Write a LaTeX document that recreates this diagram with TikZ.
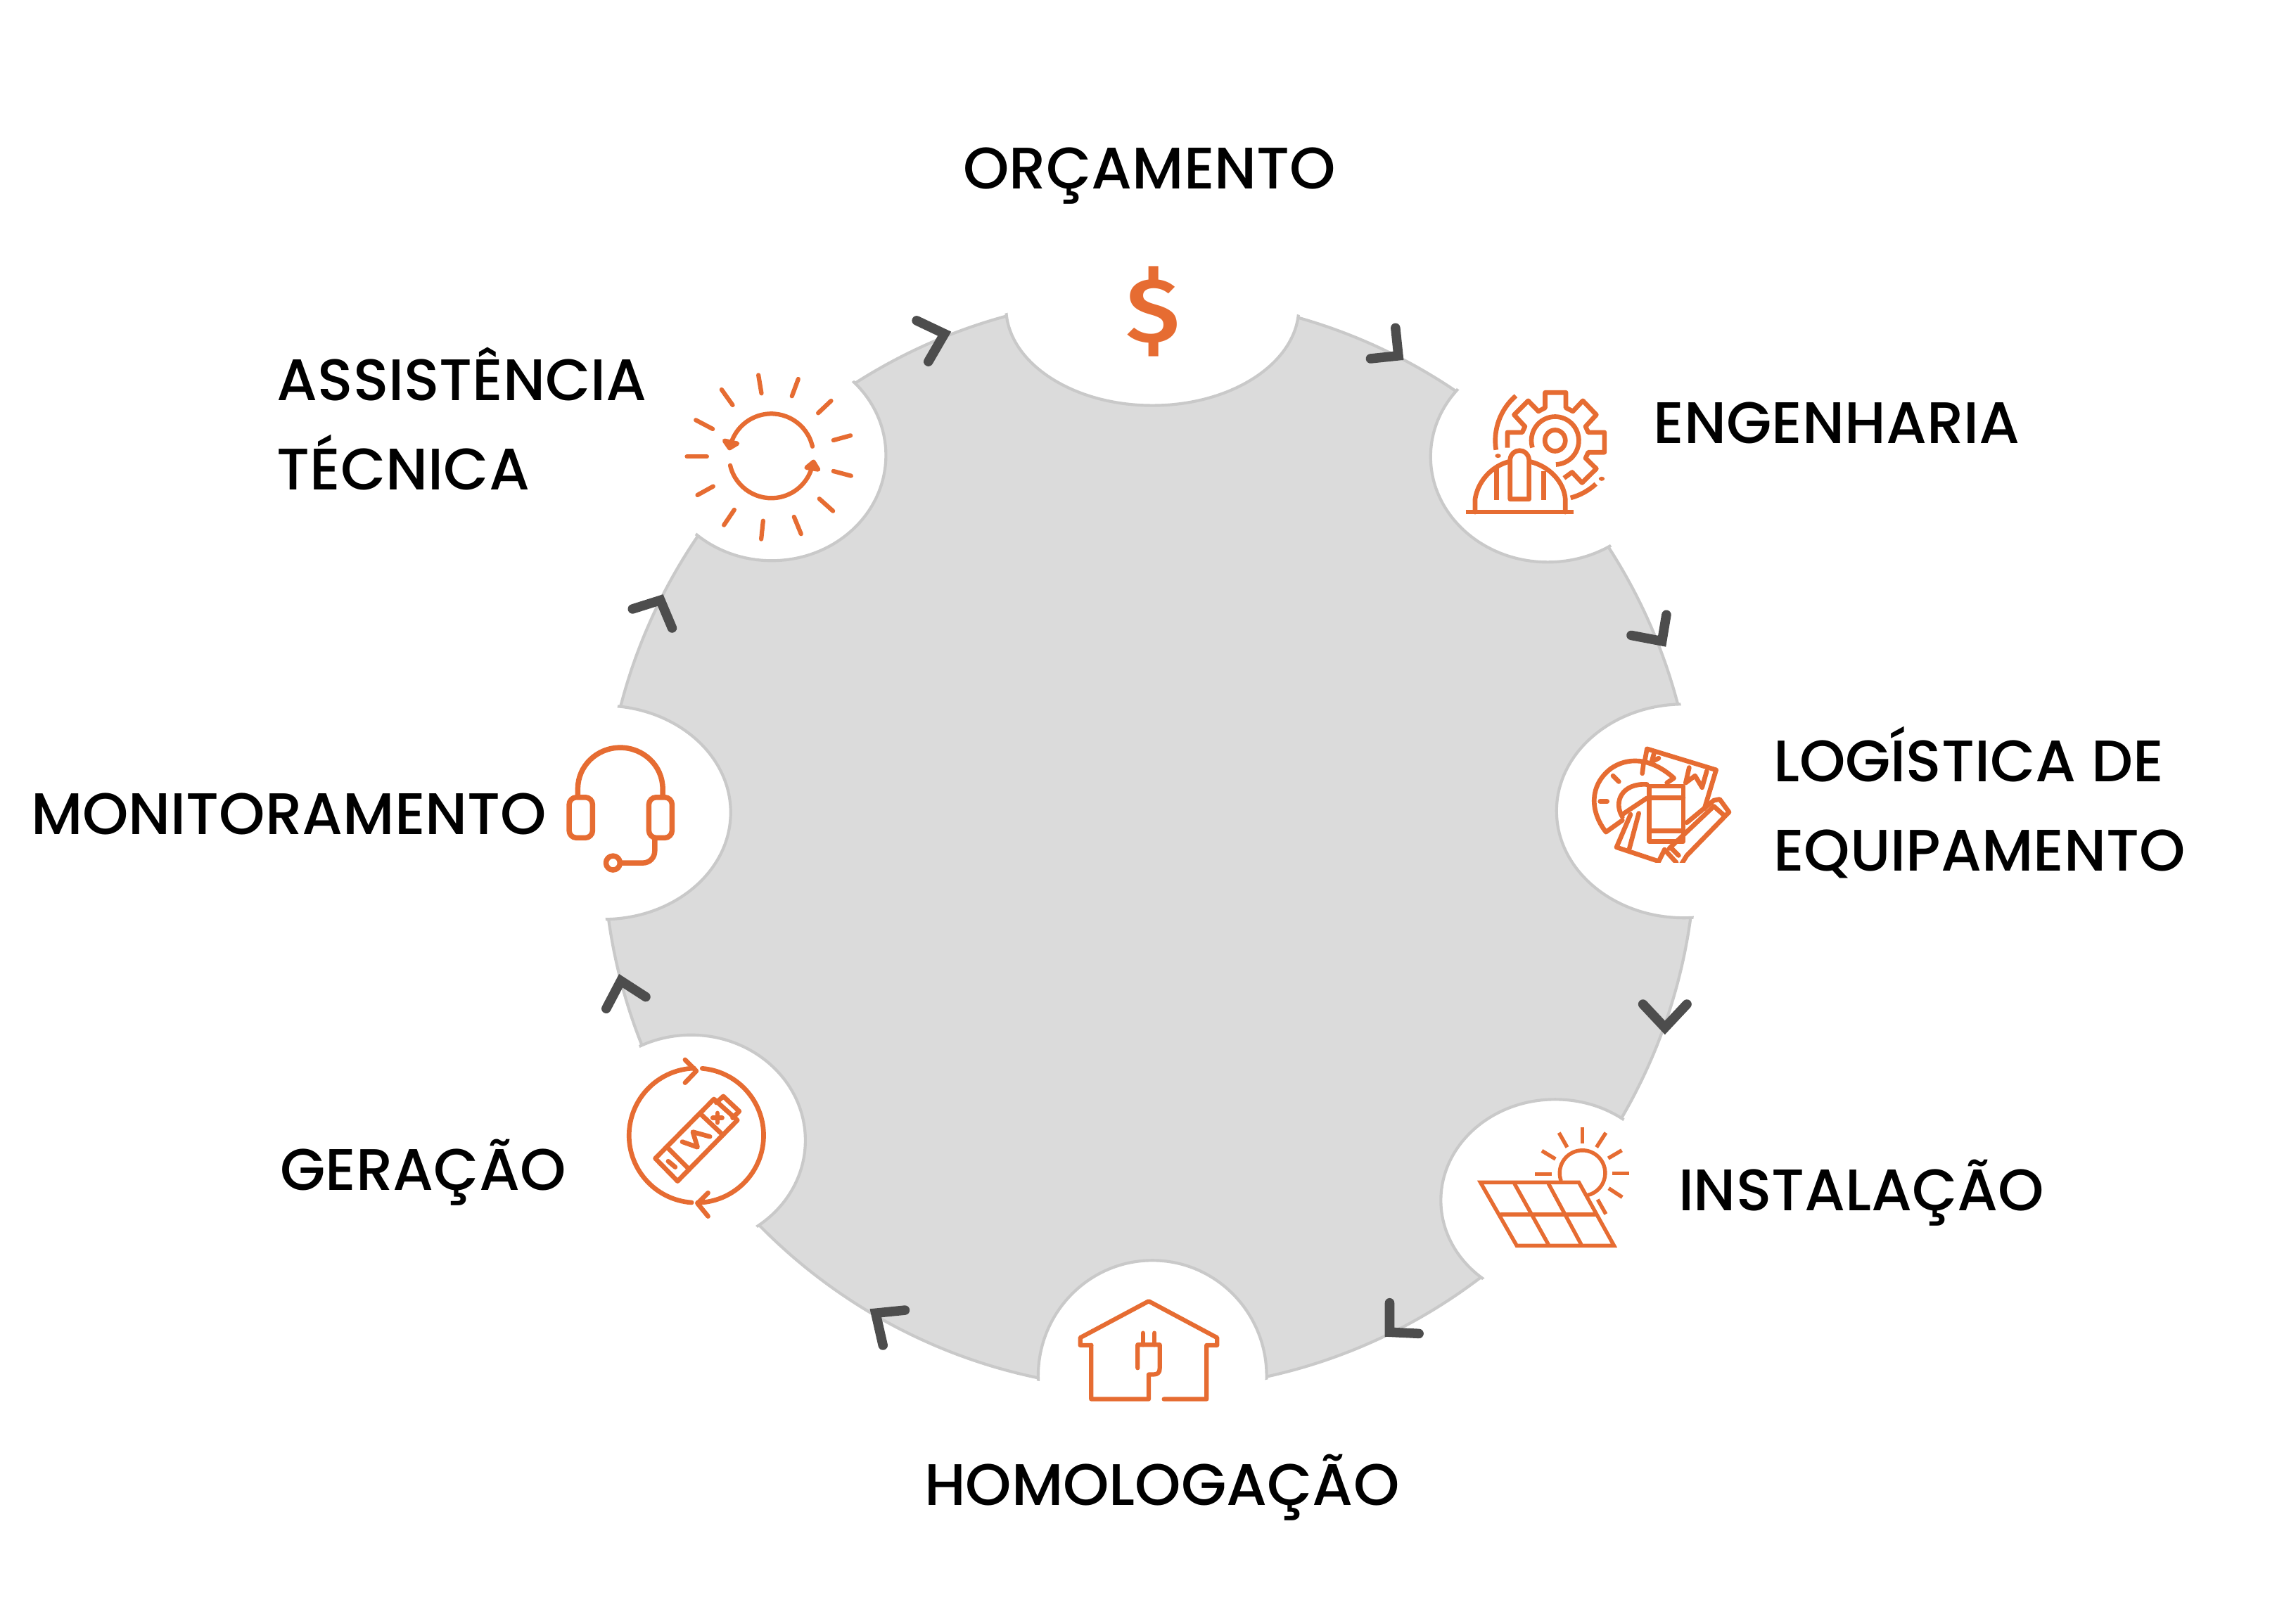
\documentclass[tikz,border=0pt]{standalone}
\usepackage{fontspec}
\setmainfont{Poppins Medium}
\newfontfamily\dollarfont[FakeStretch=1.1]{Fira Sans Medium}
\usepackage{tikz}
\usetikzlibrary{shapes.geometric}
\definecolor{ringGrey}{HTML}{DBDBDB}
\definecolor{ringLine}{HTML}{C9C9C9}
\definecolor{iconOrange}{HTML}{E66C32}
\definecolor{chevGrey}{HTML}{4D4D4D}
\tikzstyle{notchNode} = [ellipse, inner sep=0pt, fill=white, draw=ringLine, line width=2pt]
\tikzstyle{labelNode} = [inner sep=0pt, align=left, text=black, font=\fontsize{40}{61}\selectfont]
\tikzstyle{chevron} = [line width=6.5pt, line cap=round, draw=chevGrey]
\tikzstyle{icon} = [line width=3.2pt, draw=iconOrange, line cap=round, line join=round]
\begin{document}
\begin{tikzpicture}[x=1pt, y=-1pt]
    \useasboundingbox (0,0) rectangle (1568,1099);
    % Ring
    \filldraw [fill=ringGrey, draw=ringLine, line width=2pt] (785,576) circle [radius=373];
    \begin{scope}
        \clip (785,576) circle [radius=375];
        \node (orcNotch) [notchNode, minimum width=200pt, minimum height=134pt] at (787,210) {};
        \node (engNotch) [notchNode, minimum width=160pt, minimum height=144pt] at (1057,312) {};
        \node (logNotch) [notchNode, minimum width=174pt, minimum height=146pt] at (1150,554) {};
        \node (insNotch) [notchNode, minimum width=156pt, minimum height=138pt] at (1062,820) {};
        \node (homNotch) [notchNode, minimum width=156pt, minimum height=158pt] at (787,940) {};
        \node (gerNotch) [notchNode, minimum width=156pt, minimum height=144pt] at (472,779) {};
        \node (monNotch) [notchNode, minimum width=174pt, minimum height=146pt] at (412,555) {};
        \node (assNotch) [notchNode, minimum width=156pt, minimum height=144pt] at (527,311) {};
    \end{scope}
    % Labels
    \node (orcamento) [labelNode] at (785,120) {ORÇAMENTO};
    \node (engenharia) [labelNode, anchor=west] at (1129,289) {ENGENHARIA};
    \node (logistica) [labelNode, anchor=west] at (1211,548) {LOGÍSTICA DE\\EQUIPAMENTO};
    \node (instalacao) [labelNode, anchor=west] at (1146,815) {INSTALAÇÃO};
    \node (homologacao) [labelNode] at (793.5,1016) {HOMOLOGAÇÃO};
    \node (geracao) [labelNode, anchor=west] at (191,801) {GERAÇÃO};
    \node (monitoramento) [labelNode, anchor=west] at (21,556) {MONITORAMENTO};
    \node (assistencia) [labelNode, anchor=west] at (189,286) {ASSISTÊNCIA\\TÉCNICA};
    % Chevrons
    \draw [chevron] (953,224) -- (955,243) -- (936,245);
    \draw [chevron] (1138,420) -- (1135,438) -- (1114,434);
    \draw [chevron] (1122,686) -- (1137,702) -- (1152,686);
    \draw [chevron] (949,890) -- (949,910) -- (969,911);
    \draw [chevron] (603,919) -- (598,897) -- (618,895);
    \draw [chevron] (414,689) -- (424,670) -- (441,681);
    \draw [chevron] (432,416) -- (451,410) -- (459,429);
    \draw [chevron] (626,219) -- (645,228) -- (634,247);
    % Budget
    \node (dollar) [inner sep=0pt, text=iconOrange, font=\dollarfont\fontsize{62.5}{62.5}\selectfont] at (787.5,212.7) {\$};
    % Engineering
    \begin{scope}[shift={(912.6,182.5)}, xscale=0.184, yscale=0.1601]
        \draw [icon, line cap=butt] (635,770) -- (635,705) -- (690,705) -- (700,680) -- (660,630) -- (712,570) -- (750,615) -- (775,600) -- (775,535) -- (852,535) -- (852,600) -- (878,615) -- (915,570) -- (965,630) -- (925,680) -- (935,705) -- (995,705) -- (995,790) -- (935,790) -- (925,815) -- (965,860) -- (912,920) -- (875,875) -- (845,900);
        \draw [icon, line cap=butt] (812,740) ++(163:88 and 102) arc [start angle=163, end angle=448, x radius=88, y radius=102];
        \draw [icon] (812,740) ellipse [x radius=38, y radius=45];
        \draw [icon, line cap=butt] (812,740) ++(171:222 and 253) arc [start angle=171, end angle=229, x radius=222, y radius=253];
        \draw [icon, line cap=butt] (812,740) ++(75:222 and 253) arc [start angle=75, end angle=47, x radius=222, y radius=253];
        \fill [iconOrange] (600,805) circle [x radius=11, y radius=9];
        \fill [iconOrange] (985,903) circle [x radius=11, y radius=9];
        \draw [icon, line cap=butt] (480,1045) -- (880,1045);
        \draw [icon] (515,1045) -- (515,990) .. controls (525,915) and (575,850) .. (640,830);
        \draw [icon] (720,830) .. controls (790,850) and (845,915) .. (850,990) -- (850,1045);
        \draw [icon, line cap=butt] (595,850) -- (595,995);
        \draw [icon, line cap=butt] (770,870) -- (770,995);
        \draw [icon] (645,990) -- (645,820) .. controls (650,770) and (710,770) .. (715,820) -- (715,990) -- cycle;
    \end{scope}
    % Logistics
    \begin{scope}[shift={(1032.7,456.3)}, scale=0.1601]
        \clip (300,300) rectangle (960,830);
        \draw [icon] (470,650) -- (400,700) .. controls (330,610) and (330,500) .. (420,430) .. controls (490,380) and (590,380) .. (690,470) -- (660,490);
        \draw [icon] (470,635) .. controls (430,570) and (470,490) .. (575,497);
        \draw [icon] (470,625) -- (575,555);
        \draw [icon] (375,570) -- (405,570);
        \draw [icon] (430,460) -- (455,485);
        \draw [icon] (560,410) -- (555,450);
        \draw [icon] (565,400) -- (575,345) -- (870,435) -- (820,600);
        \draw [icon] (605,365) -- (595,400) -- (625,385);
        \draw [icon] (755,425) -- (740,490) -- (780,460) -- (810,510) -- (830,440);
        \draw [icon] (505,625) -- (445,765) -- (625,825) -- (650,775);
        \draw [icon] (500,770) -- (540,620);
        \draw [icon] (585,505) rectangle (730,740);
        \draw [icon] (585,555) -- (730,555);
        \draw [icon] (585,695) -- (730,695);
        \draw [icon] (745,660) -- (860,565) -- (885,560) -- (925,615) -- (745,800) -- (720,840);
        \draw [icon] (670,770) -- (860,590) -- (905,630);
        \draw [icon] (650,775) -- (700,830);
        \draw [icon] (680,770) -- (710,800);
    \end{scope}
    % Solar panel
    \begin{scope}[shift={(960.6,739.7)}, scale=0.1601]
        \draw [icon, line width=2.6pt, line cap=butt, line join=miter] (315,425) -- (735,425) -- (885,695) -- (470,695) -- cycle;
        \draw [icon, line width=2.6pt, line cap=butt] (400,562) -- (810,562);
        \draw [icon, line width=2.6pt, line cap=butt] (460,430) -- (605,690);
        \draw [icon, line width=2.6pt, line cap=butt] (605,430) -- (745,690);
        \draw [icon, line width=2.6pt, line cap=butt] (750,385) ++(160:97) arc [start angle=160, end angle=438, radius=97];
        \draw [icon, line width=2.6pt, line cap=butt] (750,190) -- (750,258);
        \draw [icon, line width=2.6pt, line cap=butt] (650,213) -- (685,275);
        \draw [icon, line width=2.6pt, line cap=butt] (577,290) -- (635,325);
        \draw [icon, line width=2.6pt, line cap=butt] (548,390) -- (620,390);
        \draw [icon, line width=2.6pt, line cap=butt] (850,213) -- (810,275);
        \draw [icon, line width=2.6pt, line cap=butt] (918,288) -- (860,322);
        \draw [icon, line width=2.6pt, line cap=butt] (950,386) -- (877,386);
        \draw [icon, line width=2.6pt, line cap=butt] (920,488) -- (862,450);
        \draw [icon, line width=2.6pt, line cap=butt] (850,560) -- (815,498);
    \end{scope}
    % House
    \begin{scope}[shift={(696.4,854.9)}, scale=0.1601]
        \draw [icon, line width=3pt] (305,400) -- (258,400) -- (258,368) -- (550,212) -- (842,368) -- (842,400) -- (797,400) -- (797,630) -- (615,630);
        \draw [icon, line width=3pt] (305,400) -- (305,630) -- (550,630) -- (550,525) -- (570,525) .. controls (590,525) and (597,515) .. (597,500) -- (597,398) -- (503,398) -- (503,497);
        \draw [icon, line width=3pt] (525,348) -- (525,398);
        \draw [icon, line width=3pt] (575,348) -- (575,398);
    \end{scope}
    % Battery
    \begin{scope}[shift={(408.3,706)}, scale=0.1601]
        \draw [icon] (420,435) ++(94:287) arc [start angle=94, end angle=268, radius=287];
        \draw [icon] (372,112) -- (420,160) -- (372,210);
        \draw [icon] (420,435) ++(275:287) arc [start angle=275, end angle=449, radius=287];
        \draw [icon] (470,680) -- (425,725) -- (470,780);
        \draw [icon] (245,533) -- (340,630) -- (595,370) -- (495,280) -- cycle;
        \draw [icon] (505,295) -- (535,268) -- (603,332) -- (575,360);
        \draw [icon] (300,490) -- (390,580);
        \draw [icon] (440,345) -- (530,430);
        \draw [icon] (300,545) -- (330,570);
        \draw [icon] (490,360) -- (530,360);
        \draw [icon] (510,340) -- (510,380);
        \draw [icon] (360,462) -- (425,485) -- (405,420) -- (478,440);
    \end{scope}
    % Headset
    \begin{scope}[shift={(374.6,494.7)}, scale=0.1601]
        \draw [icon, line width=3.6pt] (125,305) -- (125,275) arc [start angle=180, end angle=360, x radius=181, y radius=175] -- (487,305);
        \draw [icon, line width=3.6pt, rounded corners=5pt] (188,312) -- (88,312) -- (88,485) -- (188,485) -- cycle;
        \draw [icon, line width=3.6pt, rounded corners=5pt] (428,312) -- (527,312) -- (527,485) -- (428,485) -- cycle;
        \draw [icon, line width=3.6pt, rounded corners=8pt] (453,485) -- (453,592) -- (305,592);
        \draw [icon, line width=3.6pt] (275,592) circle [radius=30];
    \end{scope}
    % Support
    \begin{scope}[shift={(456.3,240.2)}, scale=0.1601]
        \draw [icon, line width=3pt] (440,445) ++(347:180) arc [start angle=347, end angle=194, radius=180];
        \filldraw [icon, line width=3pt, fill=iconOrange] (240,380) -- (262,412) -- (295,392) -- cycle;
        \draw [icon, line width=3pt] (440,445) ++(167:180) arc [start angle=167, end angle=14, radius=180];
        \filldraw [icon, line width=3pt, fill=iconOrange] (590,495) -- (620,470) -- (640,503) -- cycle;
        \draw [icon, line width=3pt] (80,448) -- (165,448);
        \draw [icon, line width=3pt] (118,292) -- (190,330);
        \draw [icon, line width=3pt] (228,162) -- (275,228);
        \draw [icon, line width=3pt] (385,100) -- (398,178);
        \draw [icon, line width=3pt] (555,117) -- (528,190);
        \draw [icon, line width=3pt] (695,210) -- (640,262);
        \draw [icon, line width=3pt] (778,358) -- (705,378);
        \draw [icon, line width=3pt] (780,530) -- (705,510);
        \draw [icon, line width=3pt] (703,680) -- (645,628);
        \draw [icon, line width=3pt] (567,778) -- (537,705);
        \draw [icon, line width=3pt] (397,800) -- (405,722);
        \draw [icon, line width=3pt] (238,740) -- (282,675);
        \draw [icon, line width=3pt] (125,612) -- (192,575);
    \end{scope}
\end{tikzpicture}
\end{document}
